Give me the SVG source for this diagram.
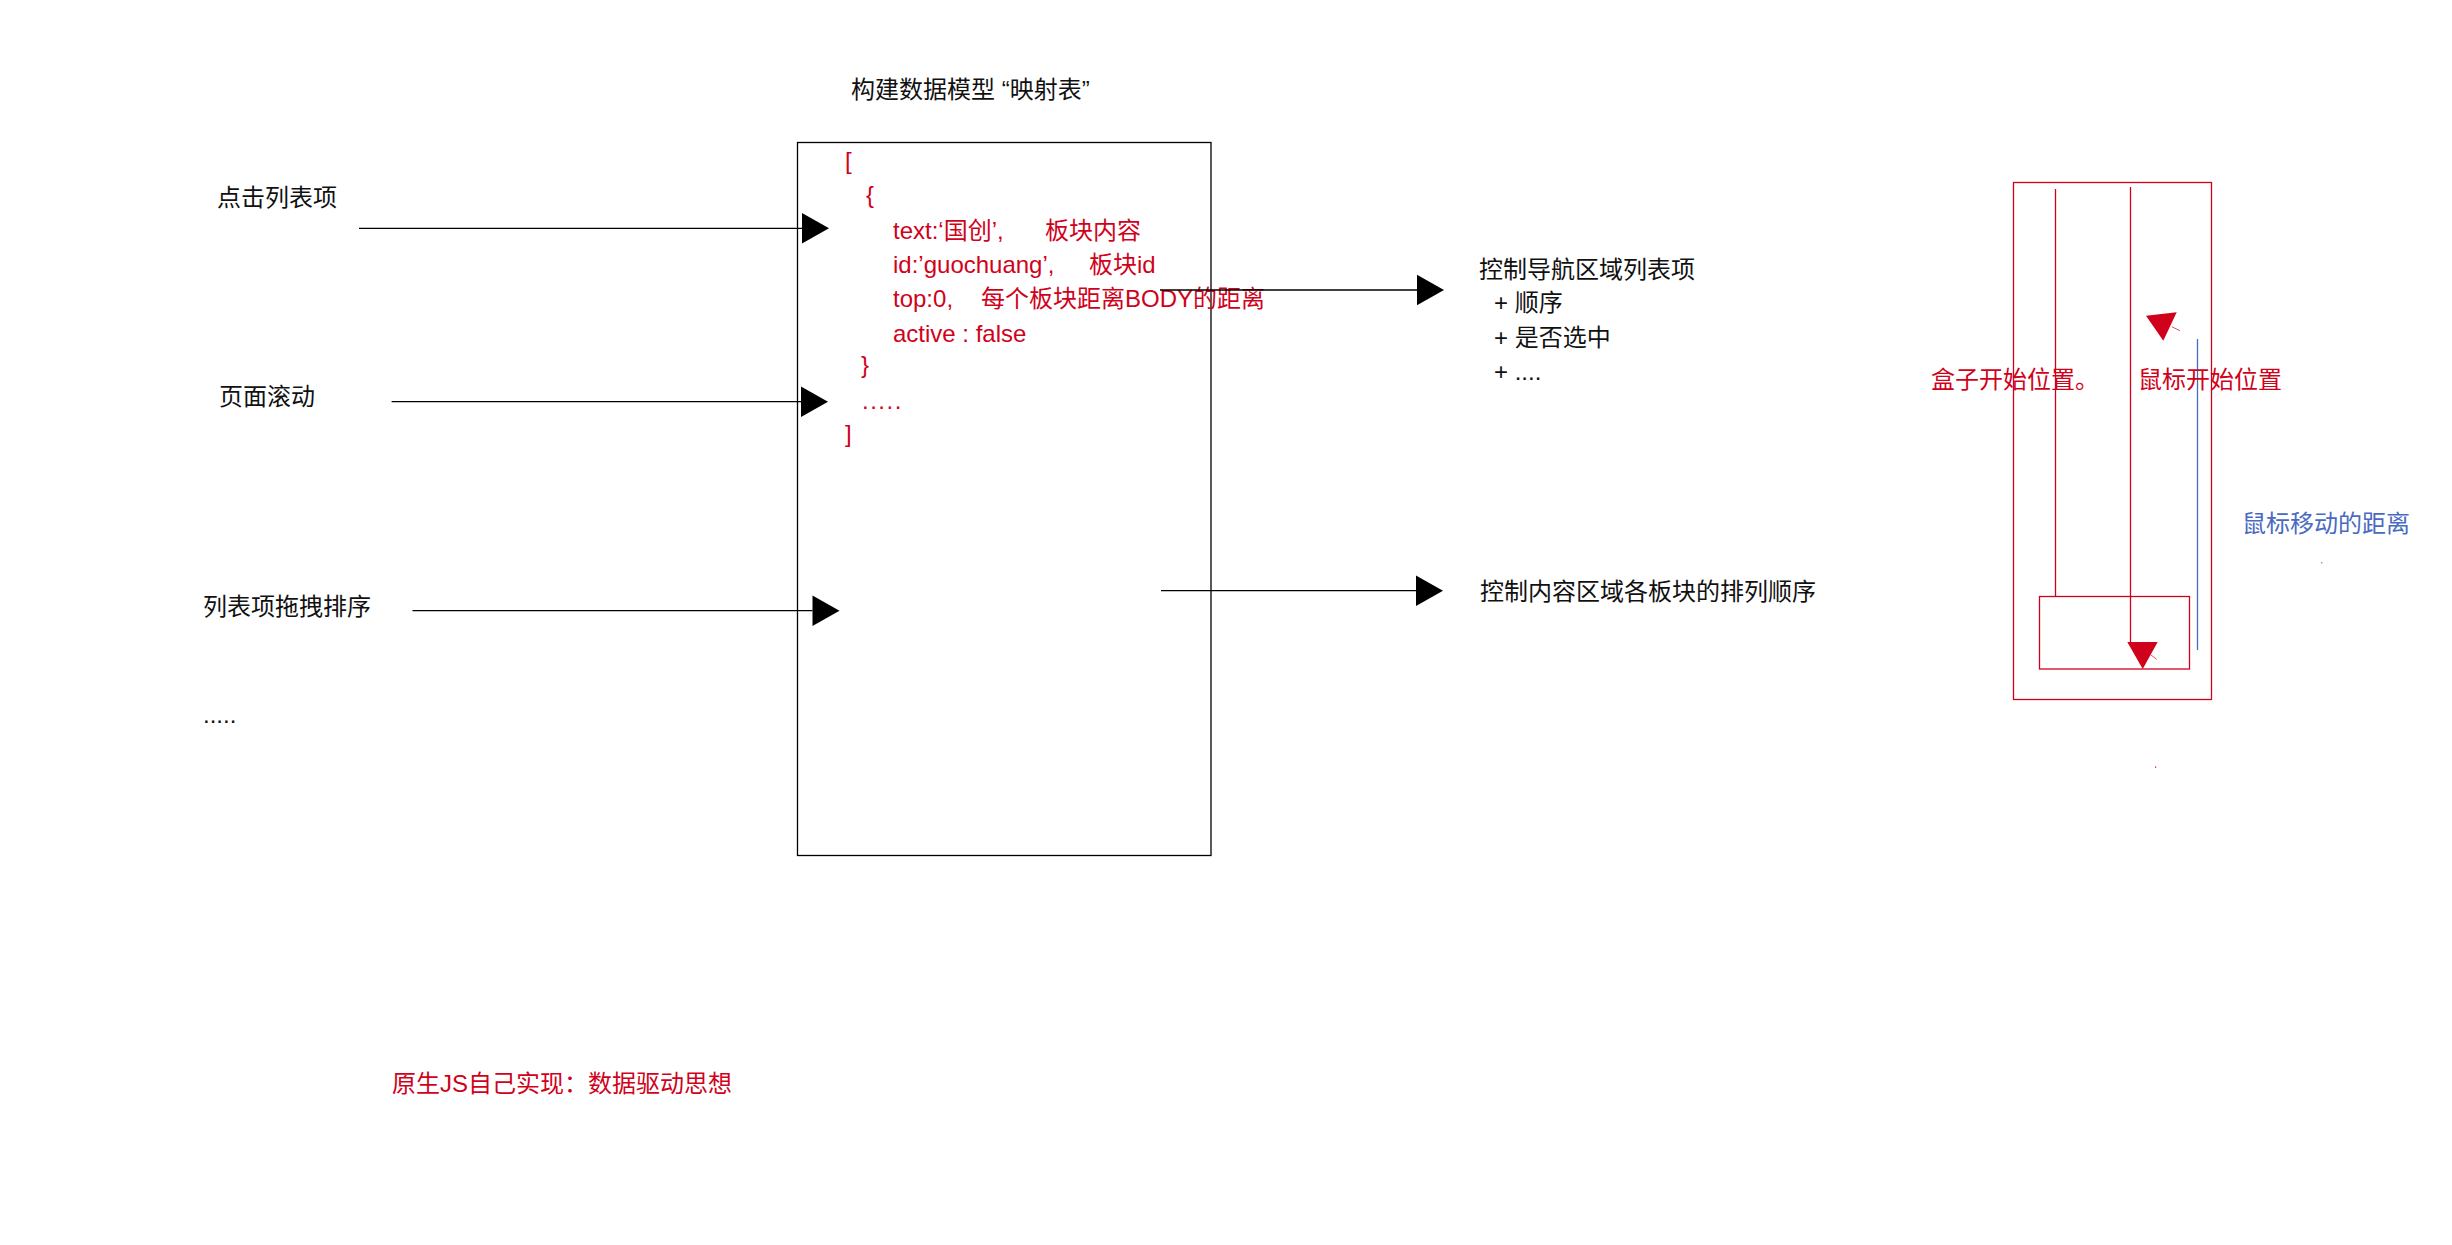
<svg xmlns="http://www.w3.org/2000/svg" width="2452" height="1245" viewBox="0 0 2452 1245">
  <style>
    text { font-family: "Liberation Sans", "Noto Sans CJK SC", sans-serif; font-size: 24px; }
    .dark { fill: #111111; }
    .red { fill: #d0021b; }
    .blue { fill: #4a6abf; }
    .edge { stroke: #000000; stroke-width: 1.3; fill: none; }
    .box { stroke: #000000; stroke-width: 1.3; fill: #ffffff; }
    .rline { stroke: #d0021b; stroke-width: 1.3; fill: none; }
    .bline { stroke: #4a6abf; stroke-width: 1.3; fill: none; }
  </style>
  <defs>
    <marker id="tri" markerUnits="userSpaceOnUse" markerWidth="28" markerHeight="31" refX="0" refY="15.3" orient="auto" overflow="visible">
      <path d="M0,0 L27,15.3 L0,30.6 z" fill="#000000"/>
    </marker>
  </defs>
  <rect width="2452" height="1245" fill="#ffffff"/>

  <!-- data model box -->
  <g id="model">
    <text class="dark" x="851" y="98">构建数据模型 “映射表”</text>
    <rect class="box" x="797.5" y="142.5" width="413.5" height="713"/>
    <text class="red" x="845" y="169">[</text>
    <text class="red" x="866" y="203">{</text>
    <text class="red" x="893" y="239">text:‘国创’,</text>
    <text class="red" x="1045" y="239">板块内容</text>
    <text class="red" x="893" y="273">id:’guochuang’,</text>
    <text class="red" x="1089" y="273">板块id</text>
    <text class="red" x="893" y="307">top:0,</text>
    <text class="red" x="981" y="307">每个板块距离BODY的距离</text>
    <text class="red" x="893" y="341.5">active : false</text>
    <text class="red" x="861" y="373">}</text>
    <text class="red" x="862" y="409" letter-spacing="1.5">.....</text>
    <text class="red" x="845" y="442">]</text>
  </g>

  <!-- input events -->
  <g id="click-item">
    <text class="dark" x="217" y="206">点击列表项</text>
  </g>
  <g id="page-scroll">
    <text class="dark" x="219" y="405">页面滚动</text>
  </g>
  <g id="drag-sort">
    <text class="dark" x="203" y="615">列表项拖拽排序</text>
  </g>
  <g id="more-events">
    <text class="dark" x="203" y="723">.....</text>
  </g>

  <!-- outputs -->
  <g id="nav-list">
    <text class="dark" x="1479" y="278">控制导航区域列表项</text>
    <text class="dark" x="1494" y="311">+ 顺序</text>
    <text class="dark" x="1494" y="346">+ 是否选中</text>
    <text class="dark" x="1494" y="380">+ ....</text>
  </g>
  <g id="content-order">
    <text class="dark" x="1480" y="600">控制内容区域各板块的排列顺序</text>
  </g>

  <g id="summary">
    <text class="red" x="392" y="1092">原生JS自己实现：数据驱动思想</text>
  </g>

  <!-- drag offset sketch -->
  <g id="drag-sketch">
    <rect class="rline" x="2013.5" y="182.5" width="198" height="517"/>
    <rect class="rline" x="2039.5" y="596.5" width="150" height="72.5"/>
    <line class="rline" x1="2055.5" y1="189" x2="2055.5" y2="596"/>
    <line class="rline" x1="2130.5" y1="187" x2="2130.5" y2="642"/>
    <polygon points="2127.3,642 2157.7,642 2142.7,669" fill="#d0021b"/>
    <line x1="2151" y1="655" x2="2156.7" y2="659.3" stroke="#d0021b" stroke-width="0.7"/>
    <polygon points="2146,315.7 2176.7,312.3 2163.3,340.7" fill="#d0021b"/>
    <line x1="2171.7" y1="326.7" x2="2180" y2="330.7" stroke="#d0021b" stroke-width="0.7"/>
    <line class="bline" x1="2197.5" y1="339" x2="2197.5" y2="650"/>
    <text class="red" x="1931" y="388">盒子开始位置。</text>
    <text class="red" x="2138" y="388">鼠标开始位置</text>
    <text class="blue" x="2242" y="532">鼠标移动的距离</text>
    <rect x="2321.2" y="562.2" width="1.2" height="1.2" fill="#4a6abf"/>
    <rect x="2155" y="766.5" width="1.2" height="1.2" fill="#d0021b"/>
  </g>

  <!-- connectors -->
  <g id="connectors">
    <line class="edge" x1="359" y1="228.3" x2="802" y2="228.3" marker-end="url(#tri)"/>
    <line class="edge" x1="391.6" y1="401.7" x2="801" y2="401.7" marker-end="url(#tri)"/>
    <line class="edge" x1="412.5" y1="610.7" x2="812.5" y2="610.7" marker-end="url(#tri)"/>
    <line class="edge" x1="1160" y1="290" x2="1417" y2="290" marker-end="url(#tri)"/>
    <line class="edge" x1="1161" y1="590.7" x2="1416" y2="590.7" marker-end="url(#tri)"/>
  </g>
</svg>
